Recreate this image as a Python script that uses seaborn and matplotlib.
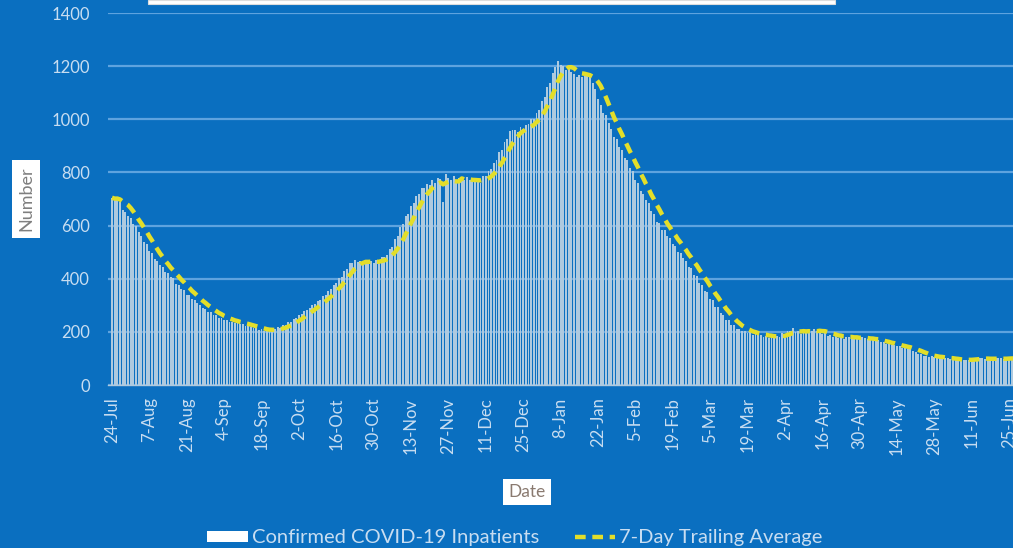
import matplotlib
matplotlib.use("Agg")
import matplotlib.pyplot as plt
import seaborn as sns
import numpy as np
import pandas as pd
from matplotlib.patches import Rectangle
from matplotlib.lines import Line2D
from matplotlib.patches import Patch

start_date = "2020-07-24"
inpatients = [
    705, 698, 702, 688,
    660, 652, 636, 628, 606, 598, 575,
    562, 538, 530, 505, 498, 476, 468,
    452, 445, 425, 422, 405, 402, 380,
    378, 362, 358, 340, 338, 322, 320,
    308, 302, 288, 287, 276, 274, 262,
    262, 252, 252, 244, 246, 238, 238,
    233, 235, 228, 230, 222, 224, 218,
    214, 214, 208, 209, 202, 206, 205,
    211, 210, 218, 215, 224, 226, 236,
    238, 250, 252, 264, 266, 280, 282,
    290, 302, 305, 318, 320, 334, 338,
    352, 360, 376, 382, 402, 405, 430,
    438, 458, 460, 470, 462, 468, 460,
    466, 458, 465, 460, 470, 468, 480,
    482, 488, 510, 520, 550, 560, 595,
    605, 635, 645, 675, 685, 712, 718,
    740, 742, 755, 752, 770, 762, 780,
    775, 690, 795, 778, 772, 785, 768,
    778, 766, 770, 782, 772, 768, 765,
    772, 762, 785, 788, 805, 812, 835,
    848, 875, 885, 915, 925, 955, 958,
    960, 952, 970, 965, 980, 982, 1000,
    1002, 1025, 1035, 1070, 1085, 1120, 1135,
    1175, 1195, 1220, 1205, 1200, 1185, 1190,
    1178, 1172, 1160, 1165, 1160, 1175, 1170,
    1160, 1135, 1115, 1075, 1055, 1025, 1015,
    985, 965, 935, 925, 895, 885, 855,
    845, 815, 805, 770, 760, 730, 718,
    698, 685, 655, 645, 615, 610, 585,
    582, 560, 555, 530, 525, 500, 498,
    478, 468, 445, 440, 415, 410, 385,
    378, 355, 350, 325, 320, 295, 292,
    270, 265, 245, 245, 225, 225, 212,
    212, 202, 204, 195, 198, 190, 192,
    188, 190, 182, 186, 178, 184, 178,
    185, 182, 195, 192, 205, 202, 215,
    200, 205, 192, 200, 198, 208, 205,
    212, 202, 204, 192, 195, 186, 190,
    182, 186, 178, 184, 175, 182, 180,
    182, 175, 178, 172, 182, 176, 174,
    170, 172, 165, 168, 160, 162, 155,
    155, 150, 152, 145, 146, 140, 140,
    136, 136, 128, 126, 118, 116, 110,
    110, 106, 108, 104, 105, 102, 104,
    100, 101, 96, 98, 94, 95, 92,
    93, 95, 95, 99, 99, 102, 101,
    100, 97, 98, 95, 99, 100, 103,
    100, 97, 98, 100, 102, 100, 98,
    99, 101,
]
tick_labels = ["24-Jul", "7-Aug", "21-Aug", "4-Sep", "18-Sep", "2-Oct", "16-Oct",
               "30-Oct", "13-Nov", "27-Nov", "11-Dec", "25-Dec", "8-Jan", "22-Jan",
               "5-Feb", "19-Feb", "5-Mar", "19-Mar", "2-Apr", "16-Apr", "30-Apr",
               "14-May", "28-May", "11-Jun", "25-Jun"]
y_ticks = [0, 200, 400, 600, 800, 1000, 1200, 1400]

BG = "#0A6FC0"
BAR = "#AECADF"
GRID = "#5EA3DF"
TXT = "#C8DDF1"
AVG = "#E3DE2A"

df = pd.DataFrame({"day": np.arange(len(inpatients)), "value": inpatients})
df["avg"] = df["value"].rolling(7, min_periods=1).mean()

sns.set_theme(style="white")
plt.rcParams["font.family"] = ["Lato", "DejaVu Sans"]

fig = plt.figure(figsize=(10.13, 5.48), dpi=100, facecolor=BG)
W, H = 1013, 548
left, right = 108, 1026
bottom, top = 385, 13
ax = fig.add_axes([left / W, 1 - bottom / H, (right - left) / W, (bottom - top) / H])
ax.set_facecolor(BG)

ax.grid(axis="y", color=GRID, linewidth=1.6)
ax.set_axisbelow(True)

sns.barplot(data=df, x="day", y="value", native_scale=True, color=BAR, saturation=1,
            width=0.72, linewidth=0, ax=ax, zorder=2)
sns.lineplot(data=df, x="day", y="avg", color=AVG, linewidth=3.2, ax=ax, zorder=3,
             dashes=False)
ax.lines[-1].set_dashes((2.4, 1.5))

ax.set_xlim(-1.5, (right - 112) / 2.67)
ax.set_ylim(0, 1400)
ax.set_yticks(y_ticks)
ax.set_yticklabels([str(v) for v in y_ticks], color=TXT, fontsize=12)
ax.set_xticks(np.arange(len(tick_labels)) * 14)
ax.set_xticklabels(tick_labels, rotation=90, color=TXT, fontsize=12)
ax.tick_params(axis="x", length=5, width=1, color=TXT, pad=4)
ax.tick_params(axis="y", length=0, pad=13)
for s in ["top", "right", "left"]:
    ax.spines[s].set_visible(False)
ax.spines["bottom"].set_color(BAR)
ax.spines["bottom"].set_linewidth(1)

ax.set_xlabel("")
ax.set_ylabel("")
fig.text(26 / W, 1 - 199 / H, "Number", rotation=90, ha="center", va="center",
         fontsize=13, color="#7F7F7F",
         bbox=dict(boxstyle="square,pad=0.35", facecolor="white", edgecolor="none"))
fig.text(527 / W, 1 - 492 / H, "Date", ha="center", va="center",
         fontsize=12.5, color="#8A7A70",
         bbox=dict(boxstyle="square,pad=0.3", facecolor="white", edgecolor="none"))

# title box edge (cropped)
fig.patches.append(Rectangle((148 / W, 1 - 4 / H), (835 - 148) / W, 4 / H,
                             transform=fig.transFigure, facecolor="white",
                             edgecolor="#DDDDDD", linewidth=0.8))

handles = [Patch(facecolor="white", edgecolor="none"),
           Line2D([0], [0], color=AVG, linewidth=3.2, dashes=(2.4, 1.5))]
leg = fig.legend(handles, ["Confirmed COVID-19 Inpatients", "7-Day Trailing Average"],
                 loc="center", bbox_to_anchor=(515 / W, 1 - 538 / H), ncol=2,
                 frameon=False, fontsize=14.5, handlelength=2.0, handleheight=0.5,
                 columnspacing=1.8, handletextpad=0.2)
for t in leg.get_texts():
    t.set_color(TXT)

fig.savefig("out.png", dpi=100, facecolor=BG)
